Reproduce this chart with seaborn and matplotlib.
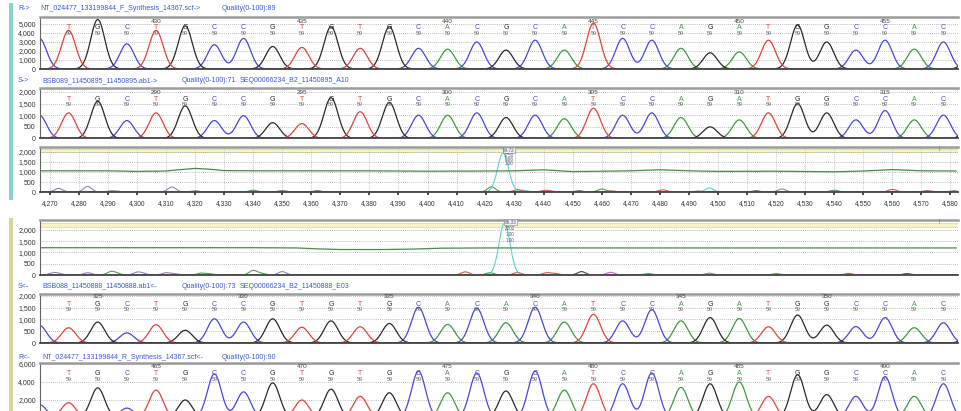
import numpy as np
import pandas as pd
import matplotlib
matplotlib.use("Agg")
import matplotlib.pyplot as plt
import matplotlib.transforms as mtransforms
from matplotlib.patches import Rectangle
import seaborn as sns

W, H = 961, 411
L_PX, R_PX = 40, 958

BASE_COLORS = {"A": "#3f9a3f", "C": "#4848dc", "G": "#2a2a2a", "T": "#e0443c"}
BUMP_COLORS = {"P": "#9a7fb4", "G": "#4f9f4f", "K": "#444444", "R": "#d8564e",
               "C": "#5fd0d0", "M": "#d060d0"}

# ---- base-call traces (33 called peaks, leftmost one cut by the axis) ----
SEQ_R_FWD = "CTGCTGCCGTGTGCACGCATCCAGATGGCCACG"
SEQ_S_FWD = "CTGCTGCCGTGTGCACGCATCCAGATGGCCACG"
SEQ_S_REV = "CTGCTGCCGTGTGCACACATCCAGATGGCCACG"
SEQ_R_REV = "CTGCTGCCGTGTGCACGCATCCAGATGGCCACG"

H_R_FWD = [3400, 4300, 5500, 2800, 4300, 4800, 2700, 3400, 2500, 2400, 4700,
           2300, 4700, 2300, 2200, 3000, 2100, 3200, 2100, 5100, 3400, 3200,
           2300, 1800, 1900, 3200, 4900, 3000, 2100, 3200, 2200, 3000, 2600]
H_S_FWD = [1000, 1100, 1600, 770, 1100, 1400, 770, 980, 680, 640, 1750,
           1150, 1550, 1000, 1000, 1100, 900, 1000, 850, 1300, 1000, 1100,
           900, 500, 800, 1100, 1500, 1100, 800, 1200, 800, 1000, 900]
H_S_REV = [750, 650, 890, 430, 780, 540, 1030, 890, 1030, 670, 940,
           690, 830, 1520, 790, 1480, 860, 1520, 890, 1220, 940, 1420,
           940, 1080, 1040, 690, 1190, 760, 700, 1080, 650, 860, 700]
H_R_REV = [1500, 1700, 3350, 1100, 3100, 2000, 4900, 2900, 3900, 2000, 3200,
           2400, 2800, 5200, 2800, 5000, 3000, 5200, 3100, 3800, 3800, 5000,
           3400, 3800, 4000, 2400, 4800, 2600, 2400, 4600, 2400, 3800, 3000]

FIRST_NUM = {"r_fwd": 426, "s_fwd": 286, "s_rev": 323, "r_rev": 461}

# ---- mismatch view: quality line, small bumps, cyan peak ----
SCAN_TICKS = list(range(4270, 4581, 10))

Q3_X = [4266, 4280, 4290, 4300, 4310, 4315, 4320, 4325, 4330, 4340, 4360, 4380,
        4400, 4420, 4430, 4440, 4450, 4460, 4470, 4480, 4490, 4500, 4520,
        4540, 4550, 4560, 4570, 4582]
Q3_Y = [1060, 1060, 1060, 1030, 1050, 1120, 1180, 1140, 1070, 1060, 1060, 1060,
        1040, 1050, 1060, 1110, 1020, 1040, 1060, 1110, 1060, 1030, 1040,
        1010, 1050, 1120, 1060, 1050]
Q4_X = [4266, 4300, 4340, 4355, 4362, 4370, 4385, 4395, 4405, 4420, 4500, 4582]
Q4_Y = [1210, 1210, 1210, 1200, 1160, 1130, 1130, 1150, 1190, 1200, 1200, 1200]

B3_POS = [4273, 4283, 4291, 4292.5, 4312, 4320, 4340, 4350, 4362, 4422, 4431,
          4433, 4440, 4442, 4452, 4460, 4463, 4481, 4493, 4497, 4513, 4522,
          4540, 4560, 4572, 4581]
B3_H = [180, 280, 60, 50, 250, 60, 90, 80, 60, 260, 120, 90, 60, 50, 60, 150,
        60, 110, 50, 200, 60, 150, 90, 130, 70, 60]
B3_C = "PPGPPGGPKGRCRRKGRRPCKPGRRG"

B4_POS = [4271, 4273, 4283, 4291, 4293, 4300, 4302, 4310, 4313, 4322, 4325,
          4340, 4343, 4350, 4413, 4421.5, 4431, 4441, 4444, 4453, 4463, 4476,
          4497, 4520, 4545, 4565]
B4_H = [80, 60, 100, 140, 60, 110, 60, 100, 50, 80, 50, 200, 60, 150, 140, 100,
        110, 100, 60, 150, 120, 60, 80, 60, 70, 60]
B4_C = "PPPGGPPPPGGGGPRGRRRKMGPGRK"

CYAN3 = (4426, 1950)
CYAN4 = (4426.5, 2300)
NOTE3 = ["84.72", "1750", "0.96", "1.00"]
NOTE4 = ["86.33", "2202", "1.00", "1.00"]

TITLES = [
    (9, [("R->", 18), ("NT_024477_133199844_F_Synthesis_14367.scf->", 40),
         ("Quality(0-100):89", 222)]),
    (81, [("S->", 18), ("BSB089_11450895_11450895.ab1->", 42),
          ("Quality(0-100):71", 182), ("SEQ00066234_B2_11450895_A10", 240)]),
    (286, [("S<-", 18), ("BSB088_11450888_11450888.ab1<-", 42),
           ("Quality(0-100):73", 182), ("SEQ00066234_B2_11450888_E03", 240)]),
    (357, [("R<-", 18), ("NT_024477_133199844_R_Synthesis_14367.scf<-", 42),
           ("Quality(0-100):90", 222)]),
]

sns.set_theme(style="white")
plt.rcParams["font.family"] = ["Liberation Sans", "DejaVu Sans"]

fig = plt.figure(figsize=(W / 100, H / 100), dpi=100)


def add_panel(top, bottom):
    return fig.add_axes([L_PX / W, 1 - bottom / H, (R_PX - L_PX) / W, (bottom - top) / H])


def style_panel(ax, ticks, top):
    ax.set_ylim(0, top)
    ax.set_yticks(ticks)
    ax.set_yticklabels([f"{t:,}" for t in ticks])
    ax.tick_params(axis="y", labelsize=5, length=2, pad=1, colors="#333333")
    for t in ticks:
        if t > 0:
            ax.axhline(t, color="#a8a8a8", ls=(0, (1, 1.5)), lw=0.6, zorder=0)
    ax.spines["top"].set_color("#9c9c9c")
    ax.spines["top"].set_linewidth(1.8)
    ax.spines["left"].set_color("#666666")
    ax.spines["left"].set_linewidth(0.8)
    ax.spines["right"].set_visible(False)
    ax.spines["bottom"].set_color("#444444")
    ax.spines["bottom"].set_linestyle((0, (1, 1)))
    ax.spines["bottom"].set_linewidth(1.3)
    ax.set_xlabel("")
    ax.set_ylabel("")
    ax.patch.set_alpha(0)


def draw_trace(ax, seq, heights, first_num, y_num, y_let, y_q):
    x = np.arange(-1.5, 33.5, 0.02)
    frames = []
    for b in "ACGT":
        sig = np.zeros_like(x)
        for k, (s, h) in enumerate(zip(seq, heights)):
            if s == b:
                sig += h * np.exp(-0.5 * ((x - k) / 0.24) ** 2)
        frames.append(pd.DataFrame({"x": x, "signal": sig, "base": b}))
    df = pd.concat(frames, ignore_index=True)
    sns.lineplot(data=df, x="x", y="signal", hue="base", palette=BASE_COLORS,
                 estimator=None, legend=False, lw=0.9, ax=ax)
    ax.set_xlim(0.02, 31.5)
    ax.set_xticks([])
    tr = mtransforms.blended_transform_factory(ax.transData, ax.transAxes)
    for k in range(1, 32):
        ax.text(k, y_let, seq[k], transform=tr, ha="center", va="center",
                fontsize=5, color=BASE_COLORS[seq[k]])
        ax.text(k, y_q, "59", transform=tr, ha="center", va="center",
                fontsize=3.8, color="#666666")
        num = first_num + k
        if num % 5 == 0:
            ax.text(k, y_num, str(num), transform=tr, ha="center", va="center",
                    fontsize=4.6, color="#444444")


def draw_scan(ax, qx, qy, bpos, bh, bc, cyan, note, note_y, band):
    ax.set_xlim(4266.6, 4582.6)
    ax.axhspan(band[0], band[1], color="#f6f4c6", ec="#dedaa0", lw=0.6, zorder=0)
    x = np.arange(4262, 4590, 0.1)
    frames = []
    for code in sorted(set(bc)):
        sig = np.zeros_like(x)
        for p, h, c in zip(bpos, bh, bc):
            if c == code:
                sig += h * np.exp(-0.5 * ((x - p) / 1.4) ** 2)
        frames.append(pd.DataFrame({"x": x, "signal": sig, "kind": code}))
    cy = cyan[1] * np.exp(-0.5 * ((x - cyan[0]) / 1.9) ** 2)
    frames.append(pd.DataFrame({"x": x, "signal": cy, "kind": "cyan"}))
    df = pd.concat(frames, ignore_index=True)
    pal = dict(BUMP_COLORS)
    pal["cyan"] = "#5fd0d0"
    sns.lineplot(data=df, x="x", y="signal", hue="kind", palette=pal,
                 estimator=None, legend=False, lw=0.8, ax=ax)
    sns.lineplot(x=qx, y=qy, color="#4a8a4a", lw=0.9, ax=ax)
    tr = mtransforms.blended_transform_factory(ax.transData, ax.transAxes)
    for i, (txt, yy) in enumerate(zip(note, note_y)):
        ax.text(cyan[0] + 2, yy, txt, transform=tr, ha="center", va="center",
                fontsize=3.3, color="#555577",
                bbox=dict(boxstyle="square,pad=0.1", fc="#eeeeee", ec="#888888", lw=0.4)
                if i == 0 else None)
    ax.text(4576, 0.97, "|", transform=tr, ha="center", va="center",
            fontsize=4, color="#777777")


# panel 1: R-> reference forward
ax1 = add_panel(17, 69)
draw_trace(ax1, SEQ_R_FWD, H_R_FWD, FIRST_NUM["r_fwd"], 0.92, 0.79, 0.69)
style_panel(ax1, [0, 1000, 2000, 3000, 4000, 5000], 5780)

# panel 2: S-> sample forward
ax2 = add_panel(88, 138.5)
draw_trace(ax2, SEQ_S_FWD, H_S_FWD, FIRST_NUM["s_fwd"], 0.915, 0.77, 0.675)
style_panel(ax2, [0, 500, 1000, 1500, 2000], 2170)

# panel 3: mismatch view with scan axis
ax3 = add_panel(147, 192)
draw_scan(ax3, Q3_X, Q3_Y, B3_POS, B3_H, B3_C, CYAN3, NOTE3,
          [0.93, 0.82, 0.73, 0.64], (1980, 2140))
style_panel(ax3, [0, 500, 1000, 1500, 2000], 2250)
ax3.set_xticks(SCAN_TICKS)
ax3.set_xticklabels([f"{t:,}" for t in SCAN_TICKS])
ax3.tick_params(axis="x", labelsize=4.8, length=2, pad=4, colors="#333333",
                bottom=True)
for t in SCAN_TICKS:
    ax3.axvline(t, color="#b0b0b0", ls=(0, (1, 1.5)), lw=0.6, zorder=0)

# panel 4: second mismatch view
ax4 = add_panel(220, 275)
draw_scan(ax4, Q4_X, Q4_Y, B4_POS, B4_H, B4_C, CYAN4, NOTE4,
          [0.96, 0.85, 0.745, 0.62], (2150, 2300))
style_panel(ax4, [0, 500, 1000, 1500, 2000], 2440)
ax4.set_xticks([])

# panel 5: S<- sample reverse
ax5 = add_panel(294, 343)
draw_trace(ax5, SEQ_S_REV, H_S_REV, FIRST_NUM["s_rev"], 0.94, 0.785, 0.685)
style_panel(ax5, [0, 500, 1000, 1500, 2000], 2085)

# panel 6: R<- reference reverse (cut at the bottom of the window)
ax6 = add_panel(363, 418)
draw_trace(ax6, SEQ_R_REV, H_R_REV, FIRST_NUM["r_rev"], 0.93, 0.81, 0.70)
style_panel(ax6, [2000, 4000, 6000], 6110)

for y, parts in TITLES:
    for txt, x in parts:
        fig.text(x / W, 1 - y / H, txt, fontsize=5, color="#3a5ad0",
                 ha="left", va="center")

fig.add_artist(Rectangle((9 / W, 1 - 200 / H), 4 / W, 197 / H,
                         transform=fig.transFigure, color="#86d4d4", lw=0))
fig.add_artist(Rectangle((9 / W, 0), 4 / W, (H - 218) / H,
                         transform=fig.transFigure, color="#dcd39c", lw=0))

fig.savefig("out.png", dpi=100, facecolor="white")
plt.close(fig)
